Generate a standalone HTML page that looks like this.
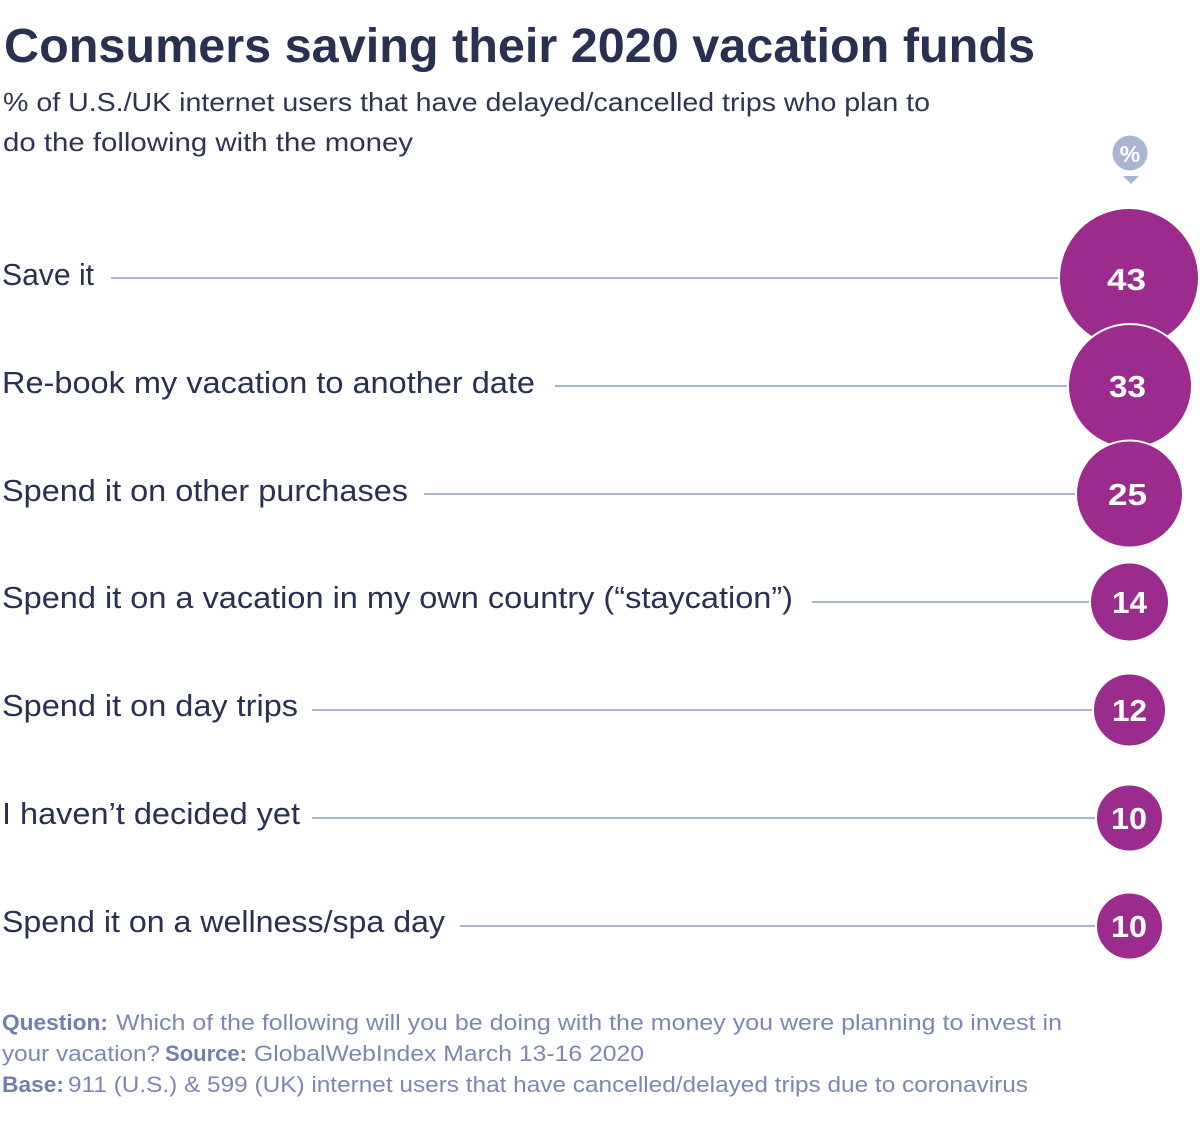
<!DOCTYPE html>
<html><head><meta charset="utf-8"><style>
html,body{margin:0;padding:0;background:#fff;}
svg{display:block;}
text{font-family:"Liberation Sans",sans-serif;}
</style></head><body>
<svg width="1200" height="1130" viewBox="0 0 1200 1130" xmlns="http://www.w3.org/2000/svg">
<rect width="1200" height="1130" fill="#fff"/>
<text x="4" y="62" font-size="48" font-weight="bold" fill="#283152" textLength="1031" lengthAdjust="spacingAndGlyphs">Consumers saving their 2020 vacation funds</text>
<text x="3" y="111" font-size="26" fill="#2d3553" textLength="927" lengthAdjust="spacingAndGlyphs">% of U.S./UK internet users that have delayed/cancelled trips who plan to</text>
<text x="3" y="151" font-size="26" fill="#2d3553" textLength="410" lengthAdjust="spacingAndGlyphs">do the following with the money</text>

<circle cx="1130" cy="153" r="17.5" fill="#a9b6d3"/>
<text x="1130" y="162" font-size="23" font-weight="bold" fill="#fff" text-anchor="middle">%</text>
<polygon points="1123,176 1139,176 1131,184" fill="#a9b6d3"/>

<g stroke="#a9b4cf" stroke-width="2">
<line x1="111" y1="278" x2="1060" y2="278"/>
<line x1="555" y1="386" x2="1068" y2="386"/>
<line x1="424" y1="494" x2="1077" y2="494"/>
<line x1="812" y1="602" x2="1090" y2="602"/>
<line x1="312" y1="710" x2="1093" y2="710"/>
<line x1="312" y1="818" x2="1096" y2="818"/>
<line x1="460" y1="926" x2="1096" y2="926"/>
</g>

<g font-size="31" fill="#283152">
<text x="2" y="285" textLength="92" lengthAdjust="spacingAndGlyphs">Save it</text>
<text x="2" y="393" textLength="533" lengthAdjust="spacingAndGlyphs">Re-book my vacation to another date</text>
<text x="2" y="501" textLength="406" lengthAdjust="spacingAndGlyphs">Spend it on other purchases</text>
<text x="2" y="608" textLength="791" lengthAdjust="spacingAndGlyphs">Spend it on a vacation in my own country (“staycation”)</text>
<text x="2" y="716" textLength="296" lengthAdjust="spacingAndGlyphs">Spend it on day trips</text>
<text x="2" y="824" textLength="298" lengthAdjust="spacingAndGlyphs">I haven’t decided yet</text>
<text x="2" y="932" textLength="443" lengthAdjust="spacingAndGlyphs">Spend it on a wellness/spa day</text>
</g>

<g fill="#9b2b8c" stroke="#fff" stroke-width="2">
<circle cx="1129" cy="278" r="70"/>
<circle cx="1130" cy="386" r="62"/>
<circle cx="1129.5" cy="494" r="53.5"/>
<circle cx="1129.5" cy="602" r="39.5"/>
<circle cx="1129.5" cy="710" r="36.5"/>
<circle cx="1129.5" cy="818" r="33.5"/>
<circle cx="1129.5" cy="926" r="33.5"/>
</g>
<g font-size="31" font-weight="bold" fill="#fff">
<text x="1107" y="290" textLength="39" lengthAdjust="spacingAndGlyphs">43</text>
<text x="1109" y="397" textLength="37" lengthAdjust="spacingAndGlyphs">33</text>
<text x="1108" y="505" textLength="39" lengthAdjust="spacingAndGlyphs">25</text>
<text x="1112" y="613" textLength="35" lengthAdjust="spacingAndGlyphs">14</text>
<text x="1112" y="721" textLength="35" lengthAdjust="spacingAndGlyphs">12</text>
<text x="1111" y="829" textLength="36" lengthAdjust="spacingAndGlyphs">10</text>
<text x="1111" y="937" textLength="36" lengthAdjust="spacingAndGlyphs">10</text>
</g>

<g font-size="22" fill="#7b88b1">
<text x="2" y="1030" font-weight="bold" fill="#7180ab" textLength="106" lengthAdjust="spacingAndGlyphs">Question:</text>
<text x="116" y="1030" textLength="946" lengthAdjust="spacingAndGlyphs">Which of the following will you be doing with the money you were planning to invest in</text>
<text x="2" y="1061" textLength="158" lengthAdjust="spacingAndGlyphs">your vacation?</text>
<text x="165" y="1061" font-weight="bold" fill="#7180ab" textLength="82" lengthAdjust="spacingAndGlyphs">Source:</text>
<text x="254" y="1061" textLength="390" lengthAdjust="spacingAndGlyphs">GlobalWebIndex March 13-16 2020</text>
<text x="2" y="1092" font-weight="bold" fill="#7180ab" textLength="62" lengthAdjust="spacingAndGlyphs">Base:</text>
<text x="68" y="1092" textLength="960" lengthAdjust="spacingAndGlyphs">911 (U.S.) &amp; 599 (UK) internet users that have cancelled/delayed trips due to coronavirus</text>
</g>
</svg>
</body></html>
